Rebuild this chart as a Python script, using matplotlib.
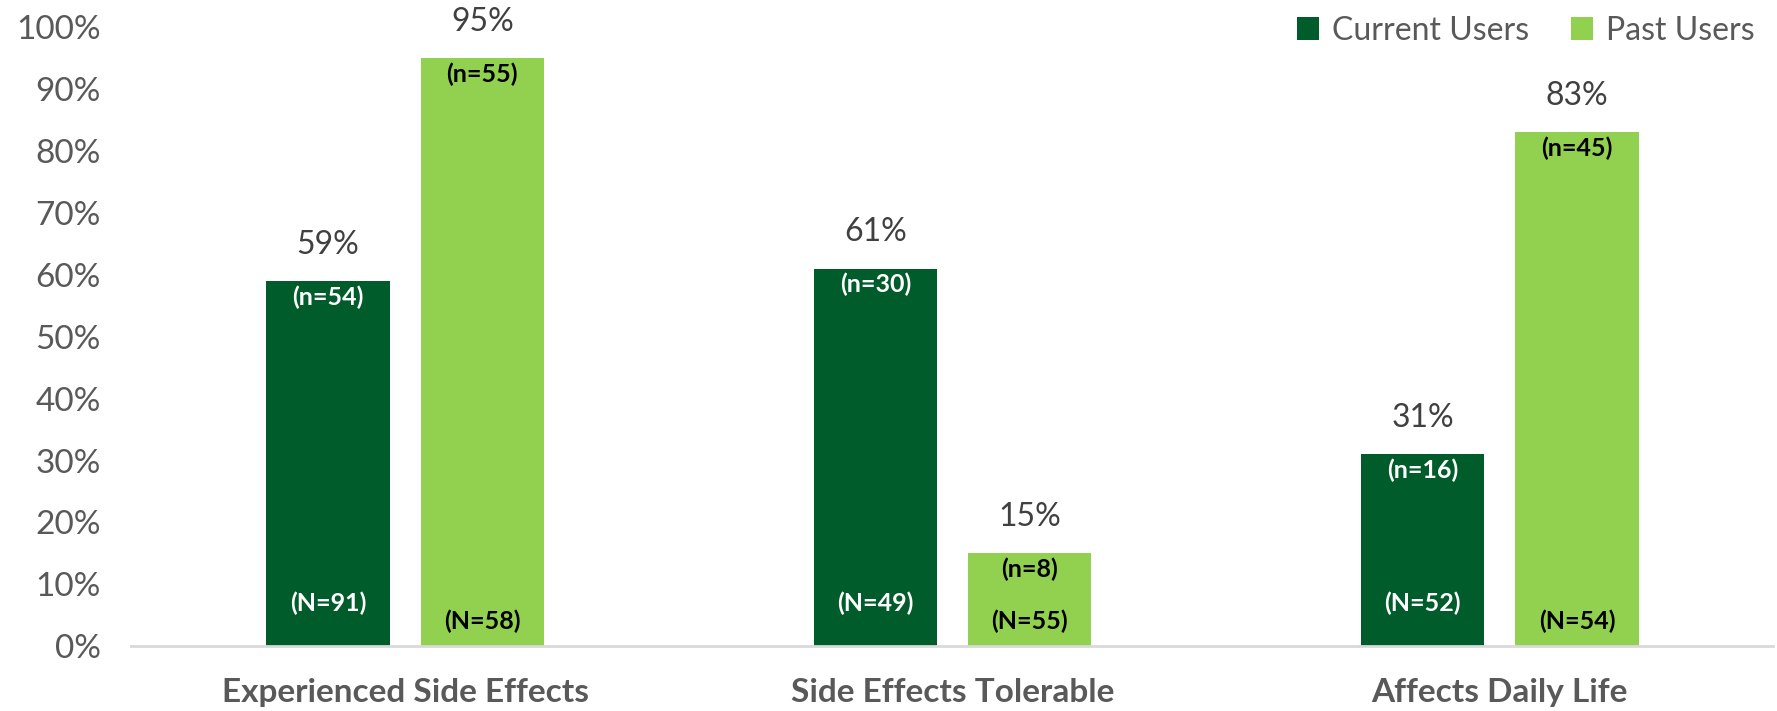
import numpy as np
import matplotlib
matplotlib.use("Agg")
import matplotlib.pyplot as plt
from matplotlib.ticker import FuncFormatter

plt.rcParams['font.family'] = ['Lato', 'DejaVu Sans']

categories = ["Experienced Side Effects", "Side Effects Tolerable", "Affects Daily Life"]
current_pct = [59, 61, 31]
past_pct = [95, 15, 83]
current_n = [54, 30, 16]
past_n = [55, 8, 45]
current_total = [91, 49, 52]
past_total = [58, 55, 54]

dark_green = "#005C2B"
light_green = "#92D050"
gray = "#595959"

fig = plt.figure(figsize=(17.77, 7.11), dpi=100)
ax = fig.add_axes([0.074, 0.091, 0.924, 0.871])

x = np.arange(len(categories))
offset = 0.141
width = 0.225

bars_cur = ax.bar(x - offset, current_pct, width, color=dark_green, label="Current Users")
bars_past = ax.bar(x + offset, past_pct, width, color=light_green, label="Past Users")

def label_bars(bars, pcts, ns, totals, txt_color, total_y):
    for bar, p, n, t in zip(bars, pcts, ns, totals):
        cx = bar.get_x() + bar.get_width() / 2
        ax.annotate(f"{p}%", (cx, p), xytext=(0, 26), textcoords="offset points",
                    ha="center", va="center", fontsize=23, color="#404040",
                    annotation_clip=False)
        ax.annotate(f"(n={n})", (cx, p), xytext=(0, -3), textcoords="offset points",
                    ha="center", va="top", fontsize=18, fontweight="bold",
                    color=txt_color)
        ax.text(cx, total_y, f"(N={t})", ha="center", va="center", fontsize=18,
                fontweight="bold", color=txt_color)

label_bars(bars_cur, current_pct, current_n, current_total, "white", 7)
label_bars(bars_past, past_pct, past_n, past_total, "black", 4)

ax.set_xlim(-0.5, 2.5)
ax.set_ylim(0, 100)
ax.set_yticks(range(0, 101, 10))
ax.yaxis.set_major_formatter(FuncFormatter(lambda v, _: f"{int(v)}%"))
ax.set_xticks(x)
ax.set_xticklabels(categories, fontsize=24, fontweight="bold", color=gray)
ax.tick_params(axis="y", length=0, pad=22, labelsize=24, labelcolor=gray)
ax.tick_params(axis="x", length=0, pad=23)

for side in ["top", "right", "left"]:
    ax.spines[side].set_visible(False)
ax.spines["bottom"].set_color("#D9D9D9")
ax.spines["bottom"].set_linewidth(2)

leg = ax.legend(loc="upper right", bbox_to_anchor=(1.006, 1.065), ncol=2, frameon=False,
                fontsize=23, handlelength=0.7, handleheight=0.7, columnspacing=1.3,
                handletextpad=0.4)
for t in leg.get_texts():
    t.set_color(gray)

fig.savefig("out.png", dpi=100)
